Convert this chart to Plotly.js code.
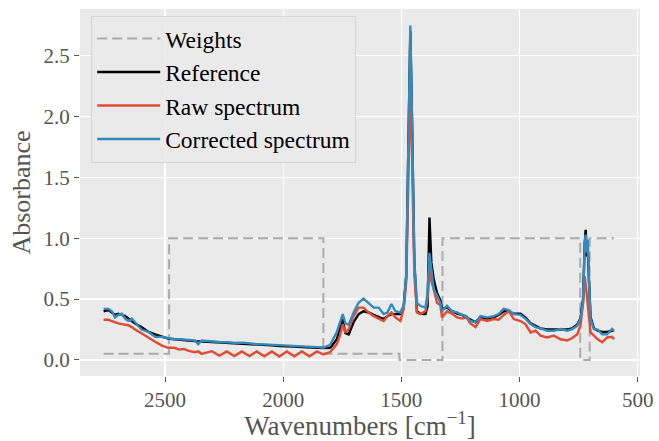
<!DOCTYPE html>
<html>
<head>
<meta charset="utf-8">
<script src="https://cdn.plot.ly/plotly-3.0.1.min.js"></script>
<style>html,body{margin:0;padding:0;background:#fff}#chart{width:659px;height:441px}</style>
</head>
<body>
<div id="chart"></div>
<script>
// Wavenumber grid (cm^-1)
const wavenumbers = [
  2760,2740,2725,2712,2698,2683,2669,2655,2641,2627,
  2600,2570,2542,2515,2487,2460,2440,2420,2400,2373,
  2360,2345,2320,2302,2270,2239,2207,2175,2143,2112,
  2080,2048,2016,1985,1953,1921,1889,1857,1830,1801,
  1773,1760,1748,1737,1723,1702,1681,1660,1639,1617,
  1596,1575,1559,1542,1525,1504,1490,1479,1470,1462,
  1455,1445,1434,1420,1398,1389,1381,1373,1363,1349,
  1335,1328,1307,1285,1264,1243,1225,1208,1186,1165,
  1137,1109,1088,1067,1045,1024,996,975,953,932,
  911,883,855,826,798,777,756,742,731,724,
  720,714,711,705,699,685,669,650,629,608,
  600
];
const referenceSpectrum = [
  0.40,0.41,0.39,0.37,0.38,0.37,0.36,0.34,0.32,0.30,
  0.27,0.23,0.21,0.19,0.175,0.17,0.165,0.16,0.16,0.155,
  0.155,0.15,0.15,0.148,0.145,0.14,0.137,0.135,0.13,0.125,
  0.122,0.12,0.115,0.115,0.11,0.105,0.105,0.10,0.098,0.10,
  0.17,0.25,0.336,0.22,0.21,0.31,0.377,0.40,0.39,0.37,
  0.35,0.336,0.36,0.377,0.377,0.377,0.445,0.70,1.80,2.70,
  2.00,0.80,0.40,0.38,0.377,0.44,1.17,0.80,0.66,0.55,
  0.49,0.42,0.43,0.40,0.38,0.37,0.35,0.33,0.31,0.35,
  0.34,0.35,0.37,0.40,0.40,0.38,0.38,0.35,0.30,0.28,
  0.26,0.25,0.25,0.25,0.25,0.26,0.29,0.34,0.50,0.95,
  1.07,0.85,0.90,0.60,0.35,0.26,0.24,0.23,0.23,0.24,
  0.245
];
const rawSpectrum = [
  0.33,0.33,0.32,0.31,0.30,0.295,0.29,0.285,0.27,0.25,
  0.22,0.18,0.15,0.12,0.10,0.10,0.085,0.09,0.075,0.063,
  0.07,0.05,0.065,0.072,0.035,0.07,0.032,0.07,0.032,0.07,
  0.03,0.07,0.028,0.07,0.03,0.07,0.03,0.07,0.045,0.065,
  0.13,0.20,0.295,0.23,0.25,0.36,0.43,0.43,0.39,0.36,
  0.34,0.32,0.36,0.39,0.35,0.32,0.42,0.65,1.50,2.30,
  1.70,0.70,0.39,0.377,0.40,0.50,0.745,0.65,0.58,0.47,
  0.45,0.35,0.40,0.38,0.35,0.34,0.35,0.30,0.27,0.336,
  0.32,0.336,0.33,0.37,0.40,0.336,0.32,0.295,0.226,0.24,
  0.20,0.185,0.20,0.17,0.16,0.18,0.21,0.28,0.47,0.69,
  0.62,0.50,0.45,0.336,0.226,0.20,0.17,0.145,0.185,0.19,
  0.17
];
const correctedSpectrum = [
  0.42,0.42,0.40,0.35,0.37,0.38,0.34,0.32,0.34,0.31,
  0.25,0.23,0.19,0.19,0.18,0.17,0.17,0.17,0.165,0.16,
  0.13,0.16,0.155,0.15,0.148,0.145,0.14,0.142,0.135,0.13,
  0.128,0.125,0.12,0.122,0.115,0.11,0.112,0.105,0.10,0.125,
  0.23,0.30,0.377,0.30,0.29,0.39,0.47,0.505,0.47,0.43,
  0.43,0.377,0.39,0.46,0.40,0.39,0.445,0.70,1.80,2.75,
  2.00,0.80,0.47,0.445,0.43,0.55,0.88,0.75,0.58,0.53,
  0.47,0.40,0.445,0.40,0.39,0.37,0.36,0.32,0.31,0.36,
  0.35,0.36,0.377,0.42,0.41,0.377,0.37,0.34,0.295,0.27,
  0.26,0.24,0.24,0.254,0.24,0.254,0.28,0.336,0.47,0.965,
  1.03,0.88,0.99,0.61,0.336,0.254,0.25,0.21,0.21,0.254,
  0.24
];
const weightWavenumbers = [2760,2483,2483,1830,1830,1508,1508,1326,1326,743,743,703,703,600];
const weightValues      = [0.05,0.05,1,1,0.05,0.05,0,0,1,1,0,0,1,1];

const seriesNames = ['Weights','Reference','Raw spectrum','Corrected spectrum'];
const xTicks = [2500,2000,1500,1000,500];

const serif = 'Liberation Serif';
const traces = [
  {x: weightWavenumbers, y: weightValues, name: seriesNames[0], mode: 'lines', legendgroup: 'a',
   line: {color: '#ababab', width: 2, dash: '10px,5px'}},
  {x: wavenumbers, y: referenceSpectrum, name: seriesNames[1], mode: 'lines', legendgroup: 'b',
   line: {color: '#000000', width: 2.4}},
  {x: wavenumbers, y: rawSpectrum, name: seriesNames[2], mode: 'lines', legendgroup: 'c',
   line: {color: '#E24A33', width: 2.4}},
  {x: wavenumbers, y: correctedSpectrum, name: seriesNames[3], mode: 'lines', legendgroup: 'd',
   line: {color: '#348ABD', width: 2.4}}
];

const layout = {
  width: 659, height: 441,
  margin: {l: 80, r: 19, t: 9, b: 65},
  paper_bgcolor: '#ffffff',
  plot_bgcolor: '#EAEAEA',
  font: {family: serif, color: '#555555'},
  showlegend: true,
  legend: {
    x: 0.02, y: 0.982, xanchor: 'left', yanchor: 'top',
    bgcolor: 'rgba(234,234,234,0.9)', bordercolor: '#d6d6d6', borderwidth: 1,
    font: {family: serif, size: 23.5, color: '#000000'},
    tracegroupgap: 0, itemwidth: 63
  },
  xaxis: {
    range: [2860, 490], tickvals: xTicks, ticktext: xTicks.map(String),
    ticks: 'outside', ticklen: 5, tickcolor: '#555555', tickwidth: 1,
    showgrid: true, gridcolor: '#ffffff', gridwidth: 1.3, zeroline: false, showline: false,
    tickfont: {family: serif, size: 21, color: '#555555'},
    title: {text: 'Wavenumbers [cm<sup>\u22121</sup>]', font: {family: serif, size: 27, color: '#555555'}, standoff: 5},
    automargin: false
  },
  yaxis: {
    range: [-0.132, 2.885], dtick: 0.5, tick0: 0, tickformat: '.1f',
    ticks: 'outside', ticklen: 5, tickcolor: '#555555', tickwidth: 1,
    showgrid: true, gridcolor: '#ffffff', gridwidth: 1.3, zeroline: false, showline: false,
    tickfont: {family: serif, size: 21, color: '#555555'},
    title: {text: 'Absorbance', font: {family: serif, size: 26, color: '#555555'}, standoff: 5},
    automargin: false
  }
};

Plotly.newPlot('chart', traces, layout, {displayModeBar: false, staticPlot: true});
</script>
</body>
</html>
